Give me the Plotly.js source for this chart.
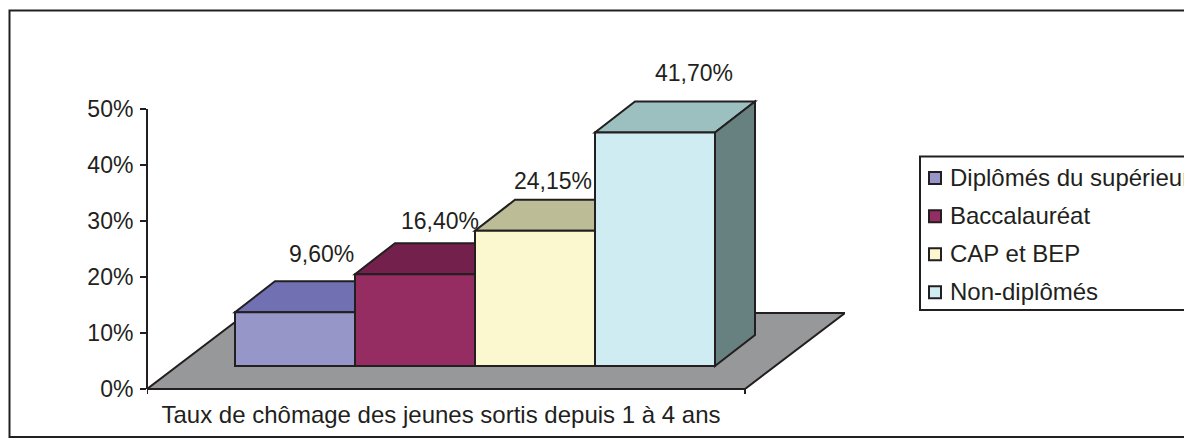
<!DOCTYPE html>
<html><head><meta charset="utf-8">
<script src="https://cdn.plot.ly/plotly-3.0.1.min.js"></script>
<style>html,body{margin:0;padding:0;background:#fff;overflow:hidden}#c{width:1184px;height:448px}</style>
</head><body><div id="c"></div>
<script>
const seriesNames = ["Diplômés du supérieur","Baccalauréat","CAP et BEP","Non-diplômés"];
const values = [9.6,16.4,24.15,41.7];
const valueLabels = ["9,60%","16,40%","24,15%","41,70%"];
const categoryLabel = "Taux de chômage des jeunes sortis depuis 1 à 4 ans";
const yTicks = [0,10,20,30,40,50];
const yTickLabels = ["0%","10%","20%","30%","40%","50%"];
const frontColors = ["#9696c8","#952d62","#fbf8cf","#cfecf3"];
const topColors = ["#7070b2","#74204c","#bcbc96","#9bc0bf"];
const sideColor = "#678080";
const floorColor = "#97989a";
const ink = "#231f20";

const W=1184,H=448,L=147,R=845,B=389,pxPerPct=5.6,pxPerBar=120;
const T=B-60*pxPerPct;
const xU=p=>(p-L)/pxPerBar, yU=p=>(B-p)/pxPerPct;
const barLeft=xU(235), lift=yU(366);
const depthX=40/pxPerBar, depthY=31/pxPerPct;
const floorDX=100/pxPerBar, floorDY=76/pxPerPct, frontEnd=xU(745);
const labelDX=[26,25,18,39], labelDY=[-58,-53,-50,-59];

const poly=(pts,fill)=>({type:'path',layer:'below',xref:'x',yref:'y',fillcolor:fill,line:{color:ink,width:2},
  path:'M'+pts.map(p=>p.join(',')).join('L')+'Z'});
const shapes=[];
shapes.push(poly([[0,0],[frontEnd,0],[frontEnd+floorDX,floorDY],[floorDX,floorDY]],floorColor));
values.forEach((v,i)=>{
  const x0=barLeft+i,x1=x0+1,y=lift+v;
  shapes.push(poly([[x0,y],[x1,y],[x1+depthX,y+depthY],[x0+depthX,y+depthY]],topColors[i]));
  if(i===values.length-1) shapes.push(poly([[x1,lift],[x1,y],[x1+depthX,y+depthY],[x1+depthX,lift+depthY]],sideColor));
});
const axisLine={color:ink,width:2};
shapes.push({type:'line',layer:'below',xref:'paper',yref:'y',x0:0,x1:0,y0:0,y1:50,line:axisLine});
shapes.push({type:'line',layer:'below',xref:'x',yref:'paper',x0:0,x1:frontEnd,y0:0,y1:0,line:axisLine});
shapes.push({type:'line',layer:'below',xref:'x',yref:'paper',ysizemode:'pixel',yanchor:0,x0:frontEnd,x1:frontEnd,y0:0,y1:-5,line:axisLine});
shapes.push({type:'line',layer:'below',xref:'x',yref:'paper',ysizemode:'pixel',yanchor:0,x0:0,x1:0,y0:0,y1:-5,line:axisLine});
const pw=R-L,ph=B-T;
const rect=(x0,x1,yTop,yBot)=>({type:'rect',xref:'paper',yref:'paper',layer:'below',x0:(x0-L)/pw,x1:(x1-L)/pw,y0:(B-yBot)/ph,y1:(B-yTop)/ph,line:{color:ink,width:2},fillcolor:'rgba(0,0,0,0)'});
shapes.push(rect(9.5,1200,10.5,437));
shapes.push(rect(920,1200,156.5,310));

const FS=23;
const traces=seriesNames.map((n,i)=>({type:'bar',name:'<span style="font-size:24px">'+n+'</span>',x:[barLeft+i+.5],y:[values[i]],base:[lift],width:[1],
  marker:{color:frontColors[i],line:{color:ink,width:2}},hoverinfo:'skip'}));
const annotations=values.map((v,i)=>({x:barLeft+i+.5,y:lift+v,xref:'x',yref:'y',text:valueLabels[i],showarrow:false,
  xshift:labelDX[i],yshift:-labelDY[i],xanchor:'center',yanchor:'middle',font:{size:FS,color:ink}}));

Plotly.newPlot('c',traces,{
  width:W,height:H,paper_bgcolor:'#fff',plot_bgcolor:'rgba(0,0,0,0)',showlegend:true,barmode:'overlay',
  margin:{l:L,r:W-R,t:T,b:H-B,autoexpand:false},
  font:{family:'"Liberation Sans",Arial,sans-serif',size:FS,color:ink},
  xaxis:{range:[0,xU(R)],tickmode:'array',tickvals:[xU(441)],ticktext:[categoryLabel],ticks:'',showgrid:false,zeroline:false,showline:false,ticklabelstandoff:9,tickfont:{size:24,color:ink}},
  yaxis:{range:[0,60],tickmode:'array',tickvals:yTicks,ticktext:yTickLabels,ticks:'outside',ticklen:6,tickwidth:2,tickcolor:ink,showgrid:false,zeroline:false,showline:false,ticklabelstandoff:2,tickfont:{size:FS,color:ink}},
  legend:{x:(915-L)/pw,y:(B-154)/ph,xanchor:'left',yanchor:'top',bgcolor:'rgba(0,0,0,0)',borderwidth:0,traceorder:'normal',itemwidth:30,font:{size:27,color:ink},itemclick:false,itemdoubleclick:false},
  shapes,annotations
},{displayModeBar:false,staticPlot:true}).then(gd=>{
  const lg=gd.querySelector('.legend');
  lg.querySelectorAll('.legendtext').forEach(t=>t.setAttribute('transform','translate(-5,-3)'));
  lg.querySelectorAll('[clip-path]').forEach(e=>e.removeAttribute('clip-path'));
});
</script></body></html>
